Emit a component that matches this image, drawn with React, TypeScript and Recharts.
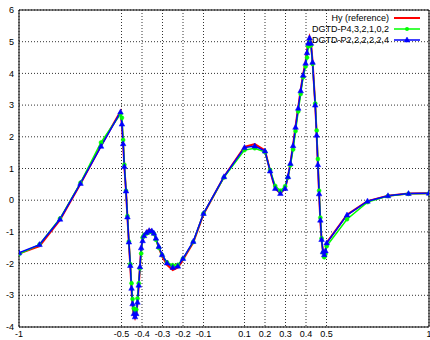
import React from "react";
import {
  CartesianGrid,
  Legend,
  Line,
  LineChart,
  ReferenceLine,
  XAxis,
  YAxis,
} from "recharts";

const xs = [
  -1, -0.9, -0.8, -0.7, -0.6, -0.505, -0.498, -0.492, -0.486, -0.478, -0.471, -0.464, -0.457,
  -0.451, -0.446, -0.44, -0.434, -0.428, -0.422, -0.416, -0.41, -0.404, -0.397, -0.39, -0.378,
  -0.365, -0.352, -0.342, -0.332, -0.318, -0.302, -0.278, -0.25, -0.225, -0.2, -0.15, -0.1, 0,
  0.1, 0.15, 0.2, 0.225, 0.25, 0.275, 0.298, 0.312, 0.324, 0.337, 0.349, 0.362, 0.374, 0.386,
  0.398, 0.405, 0.411, 0.417, 0.424, 0.432, 0.445, 0.452, 0.458, 0.464, 0.47, 0.476, 0.483,
  0.489, 0.495, 0.501, 0.6, 0.7, 0.8, 0.9, 1,
];

// Hy (reference)
const hyRef = [
  -1.68, -1.45, -0.62, 0.52, 1.72, 2.8, 2.4, 1.78, 1.05, 0.28, -0.55, -1.35, -2.1, -2.82,
  -3.32, -3.62, -3.72, -3.62, -3.25, -2.7, -2.12, -1.52, -1.26, -1.1, -0.99, -0.93, -0.95,
  -1.04, -1.22, -1.5, -1.77, -2.04, -2.2, -2.12, -1.88, -1.34, -0.44, 0.74, 1.68, 1.77, 1.57,
  0.92, 0.36, 0.22, 0.36, 0.74, 1.17, 1.74, 2.33, 2.93, 3.48, 3.97, 4.36, 4.7, 5.0, 5.15, 4.98,
  4.38, 3.02, 2.07, 1.12, 0.18, -0.65, -1.26, -1.64, -1.7, -1.58, -1.34, -0.46, -0.03, 0.14,
  0.21, 0.22,
];

// DGTD-P4,3,2,1,0,2
const p4 = [
  -1.7, -1.4, -0.58, 0.55, 1.82, 2.72, 2.6, 1.9, 1.12, 0.3, -0.5, -1.3, -2.02, -2.62, -3.12,
  -3.42, -3.5, -3.45, -3.1, -2.62, -2.15, -1.68, -1.18, -1.1, -1.05, -1.0, -1.0, -1.06, -1.25,
  -1.5, -1.73, -1.96, -2.05, -2.04, -1.84, -1.32, -0.42, 0.72, 1.58, 1.64, 1.52, 0.95, 0.45,
  0.3, 0.44, 0.72, 1.1, 1.6, 2.18, 2.8, 3.35, 3.88, 4.22, 4.5, 4.85, 4.98, 4.88, 4.3, 3.05,
  2.2, 1.3, 0.3, -0.55, -1.2, -1.65, -1.8, -1.7, -1.45, -0.6, -0.06, 0.13, 0.2, 0.21,
];

// DGTD-P2,2,2,2,2,4
const p2 = [
  -1.66, -1.4, -0.6, 0.53, 1.7, 2.78, 2.4, 1.78, 1.06, 0.29, -0.53, -1.32, -2.06, -2.78,
  -3.27, -3.58, -3.68, -3.58, -3.22, -2.68, -2.1, -1.5, -1.28, -1.12, -1.02, -0.96, -0.97,
  -1.04, -1.2, -1.46, -1.72, -1.98, -2.12, -2.08, -1.84, -1.3, -0.42, 0.74, 1.66, 1.71, 1.55,
  0.92, 0.37, 0.21, 0.37, 0.74, 1.16, 1.72, 2.3, 2.9, 3.45, 3.94, 4.32, 4.65, 4.95, 5.12, 4.95,
  4.35, 3.0, 2.05, 1.12, 0.2, -0.63, -1.24, -1.63, -1.72, -1.6, -1.35, -0.47, -0.03, 0.14,
  0.21, 0.22,
];

const xTicks = [-1, -0.5, -0.4, -0.3, -0.2, -0.1, 0.1, 0.2, 0.3, 0.4, 0.5, 1];
const yTicks = [-4, -3, -2, -1, 0, 1, 2, 3, 4, 5, 6];

const RED = "#ff0000";
const GREEN = "#00ff00";
const BLUE = "#0000ff";

const rows = xs.map((x, i) => ({ x, ref: hyRef[i], p4: p4[i], p2: p2[i] }));

function triangle(cx: number, cy: number, key?: string) {
  return (
    <path
      key={key}
      d={`M${cx},${cy - 3}L${cx + 2.8},${cy + 2}L${cx - 2.8},${cy + 2}Z`}
      fill={BLUE}
      stroke={BLUE}
      strokeWidth={0.5}
    />
  );
}

const legendItems = [
  { label: "Hy (reference)", color: RED, mark: "none" },
  { label: "DGTD-P4,3,2,1,0,2", color: GREEN, mark: "circle" },
  { label: "DGTD-P2,2,2,2,2,4", color: BLUE, mark: "tri" },
];

function GnuLegend() {
  return (
    <svg width={430} height={40}>
      {legendItems.map((it, i) => {
        const y = 6 + i * 11;
        return (
          <g key={it.label}>
            <text
              x={389}
              y={y}
              textAnchor="end"
              dominantBaseline="central"
              fontSize={9}
              fill="#000"
            >
              {it.label}
            </text>
            <line x1={394} x2={420} y1={y} y2={y} stroke={it.color} strokeWidth={it.mark === "none" ? 2 : 1.5} />
            {it.mark === "circle" && <circle cx={407} cy={y} r={2} fill={GREEN} />}
            {it.mark === "tri" && triangle(407, y)}
          </g>
        );
      })}
    </svg>
  );
}

export default function App() {
  return (
    <div
      style={{
        position: "absolute",
        left: 0,
        top: 0,
        width: 430,
        height: 340,
        background: "#fff",
        fontFamily: '"Liberation Sans", Arial, sans-serif',
      }}
    >
      <LineChart width={430} height={340} data={rows} margin={{ top: 10, right: 1, bottom: 0, left: 0 }}>
        <CartesianGrid stroke="#333" strokeDasharray="1 2" />
        <XAxis
          type="number"
          dataKey="x"
          domain={[-1, 1]}
          ticks={xTicks}
          interval={0}
          allowDataOverflow
          height={13}
          tickLine={false}
          tickSize={3}
          tickMargin={1}
          axisLine={{ stroke: "#000" }}
          tick={{ fontSize: 9, fill: "#000" }}
        />
        <YAxis
          type="number"
          domain={[-4, 6]}
          ticks={yTicks}
          interval={0}
          allowDataOverflow
          width={19}
          tickLine={false}
          tickSize={3}
          tickMargin={2}
          axisLine={{ stroke: "#000" }}
          tick={{ fontSize: 9, fill: "#000" }}
        />
        <ReferenceLine y={6} stroke="#000" />
        <ReferenceLine x={1} stroke="#000" />
        <Legend
          layout="horizontal"
          verticalAlign="middle"
          align="center"
          wrapperStyle={{ top: 12, left: 0, width: 430, height: 40 }}
          content={() => <GnuLegend />}
        />
        <Line
          type="linear"
          dataKey="ref"
          stroke={RED}
          strokeWidth={2}
          dot={false}
          isAnimationActive={false}
        />
        <Line
          type="linear"
          dataKey="p4"
          stroke={GREEN}
          strokeWidth={1.5}
          dot={{ r: 2, fill: GREEN, stroke: GREEN, strokeWidth: 0.5 }}
          isAnimationActive={false}
        />
        <Line
          type="linear"
          dataKey="p2"
          stroke={BLUE}
          strokeWidth={1.5}
          dot={(p: any) => triangle(p.cx, p.cy, `t-${p.index}`)}
          isAnimationActive={false}
        />
      </LineChart>
    </div>
  );
}
